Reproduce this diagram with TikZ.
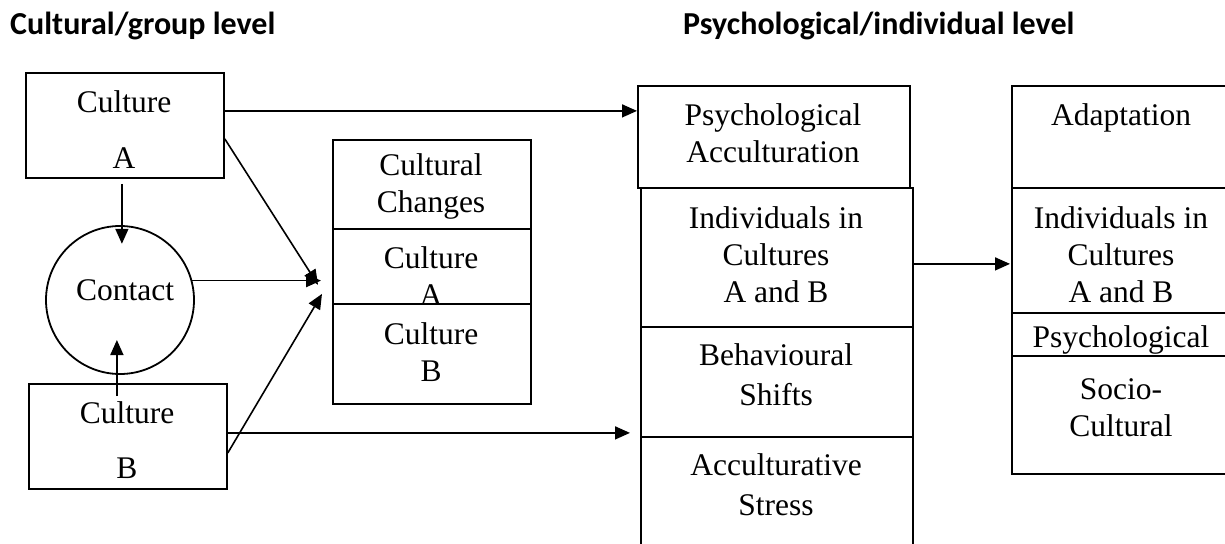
\documentclass[tikz,border=0pt]{standalone}
\usepackage{fontspec}
\setmainfont{Liberation Serif}
\newfontfamily\headfont{Carlito}
\usetikzlibrary{arrows.meta,calc}
\begin{document}
\begin{tikzpicture}[x=1pt,y=-1pt,
  box/.style={draw, line width=1.8pt, inner sep=0pt, anchor=north west},
  txt/.style={align=center, font=\fontsize{31.5}{37}\selectfont, inner sep=0pt},
  head/.style={font=\headfont\bfseries\fontsize{32}{38}\selectfont, inner sep=0pt, anchor=base west},
  arr/.style={line width=1.6pt, -{Triangle[length=15pt,width=13pt]}}
]
\useasboundingbox (0,0) rectangle (1225,543);
\clip (0,0) rectangle (1225,543);

% headings
\node[head] (h1) at (10,35) {Cultural/group level};
\node[head] (h2) at (683,35) {Psychological/individual level};

% left group
\node[box, minimum width=198pt, minimum height=105pt] (ca) at (25,72) {};
\node[txt] (caT) at (124,130) {Culture\\[19pt]A};
\node[draw, circle, line width=1.8pt, minimum size=148pt, inner sep=0pt] (ct) at (120,300) {};
\node[txt] (ctT) at (125,290) {Contact};
\node[box, minimum width=198pt, minimum height=105pt] (cb) at (28,383) {};
\node[txt] (cbT) at (127,440.5) {Culture\\[18pt]B};

% cultural changes stack
\node[box, minimum width=198pt, minimum height=89pt] (cc) at (332,139) {};
\node[box, minimum width=198pt, minimum height=75pt] (cA) at (332,228) {};
\node[txt] (ccT) at (431,186.5) {Cultural\\Changes};
\node[txt] (cAT) at (431,276.5) {Culture\\A};
\node[box, minimum width=198pt, minimum height=100pt] (cB) at (332,303) {};
\node[txt] (cBT) at (431,352.5) {Culture\\B};

% psychological column
\node[box, minimum width=272pt, minimum height=102pt] (pa) at (637,85) {};
\node[txt] (paT) at (773,133.5) {Psychological\\Acculturation};
\node[box, minimum width=272pt, minimum height=139pt] (ind) at (640,187) {};
\node[txt] (indT) at (776,255) {Individuals in\\Cultures\\A and B};
\node[box, minimum width=272pt, minimum height=110pt] (beh) at (640,326) {};
\node[txt] (behT) at (776,375) {Behavioural\\[3pt]Shifts};
\node[box, minimum width=272pt, minimum height=130pt] (str) at (640,436) {};
\node[txt] (strT) at (776,485) {Acculturative\\[3pt]Stress};

% adaptation column
\node[box, minimum width=220pt, minimum height=102pt] (ad) at (1011,85) {};
\node[txt] (adT) at (1121,118) {Adaptation};
\node[box, minimum width=220pt, minimum height=125pt] (ind2) at (1011,187) {};
\node[txt] (ind2T) at (1121,255) {Individuals in\\Cultures\\A and B};
\node[box, minimum width=220pt, minimum height=43pt] (psy2) at (1011,312) {};
\node[txt] (psy2T) at (1121,340) {Psychological};
\node[box, minimum width=220pt, minimum height=118pt] (soc) at (1011,355) {};
\node[txt] (socT) at (1121,407.5) {Socio-\\Cultural};

% connectors
\draw[arr] ($(ca.east)+(0,-14.5)$) -- ($(pa.west)+(0,-26)$);
\draw[arr] ($(ca.south)+(-3,5)$) -- ++(0,60);
\draw[arr] ($(cb.north)+(-11,13)$) -- ++(0,-56);
\draw[arr] ($(ca.east)+(0,13.5)$) -- ($(cA.south west)+(-14,-20)$);
\draw[arr] (ct.15.7) -- ($(cA.west |- ct.15.7)+(-11,0)$);
\draw[arr] ($(cb.east)+(0,16.5)$) -- ($(cB.west)+(-10,-60)$);
\draw[arr] ($(cb.east)+(0,-3.5)$) -- ($(beh.west)+(-10,51)$);
\draw[arr] ($(ind.east)+(0,6.5)$) -- ($(ind2.west)+(-1,13.5)$);
\end{tikzpicture}
\end{document}
